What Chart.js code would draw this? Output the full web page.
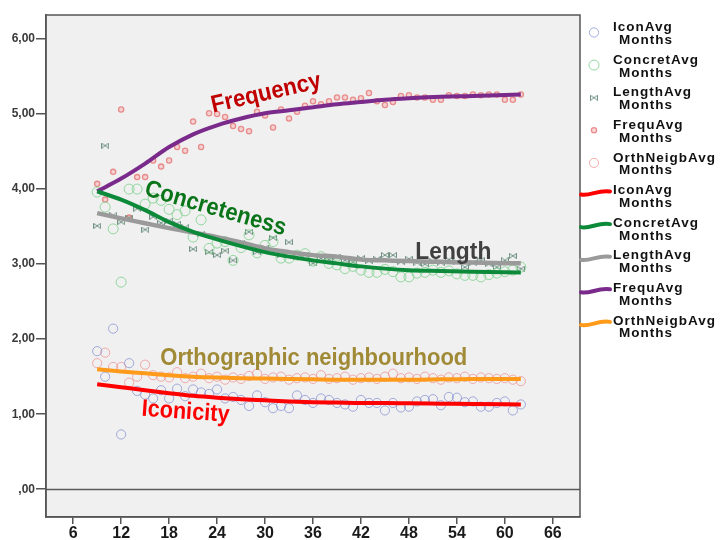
<!DOCTYPE html>
<html>
<head>
<meta charset="utf-8">
<script src="https://cdn.jsdelivr.net/npm/chart.js@4.4.0/dist/chart.umd.min.js"></script>
<style>
  html, body { margin: 0; padding: 0; background: #ffffff; }
  #wrap { width: 721px; height: 540px; }
</style>
</head>
<body>
<div id="wrap"><canvas id="c" width="721" height="540"></canvas></div>
<script>
// Age in months of the averaged observations
const months = [9,10,11,12,13,14,15,16,17,18,19,20,21,22,23,24,25,26,27,28,29,30,31,32,33,34,35,
                36,37,38,39,40,41,42,43,44,45,46,47,48,49,50,51,52,53,54,55,56,57,58,59,60,61,62];

// Monthly averages per word property
const iconAvg = [1.84,1.50,2.14,0.73,1.68,1.31,1.26,1.21,1.32,1.21,1.34,1.24,1.33,1.29,1.27,1.33,1.21,1.23,
                 1.19,1.11,1.25,1.16,1.08,1.11,1.08,1.25,1.19,1.15,1.21,1.19,1.15,1.13,1.10,1.19,1.15,1.15,
                 1.05,1.15,1.09,1.10,1.17,1.19,1.20,1.12,1.23,1.22,1.16,1.17,1.10,1.10,1.15,1.17,1.05,1.13];
const concretAvg = [3.96,3.76,3.47,2.76,4.00,4.00,3.80,3.88,3.85,3.73,3.66,3.71,3.36,3.59,3.21,3.28,3.30,3.05,
                    3.22,3.39,3.15,3.25,3.30,3.08,3.08,3.12,3.14,3.04,3.10,3.01,2.99,2.94,2.97,2.92,2.89,2.89,
                    2.93,2.90,2.83,2.83,2.88,2.89,2.92,2.89,2.91,2.87,2.85,2.85,2.83,2.86,2.88,2.90,2.92,2.96];
const lengthAvg = [3.51,4.58,3.65,3.56,3.62,3.74,3.46,3.63,3.55,3.58,3.54,3.49,3.20,3.40,3.16,3.12,3.18,3.05,
                   3.28,3.43,3.16,3.22,3.35,3.12,3.29,3.10,3.12,3.01,3.08,3.06,3.10,3.05,3.03,3.08,3.04,3.07,
                   3.12,3.12,3.03,3.07,3.02,3.00,3.04,3.02,3.06,3.03,2.96,3.02,3.05,3.00,2.96,3.05,3.11,2.94];
const frequAvg = [4.07,3.86,4.23,5.06,3.62,4.16,4.16,4.38,4.30,4.38,4.56,4.51,4.90,4.56,5.01,5.00,4.96,4.84,
                  4.80,4.77,5.03,4.98,4.82,5.06,4.94,5.03,5.11,5.17,5.13,5.17,5.22,5.22,5.19,5.21,5.28,5.17,
                  5.12,5.16,5.24,5.25,5.22,5.22,5.19,5.19,5.25,5.24,5.24,5.26,5.25,5.26,5.26,5.19,5.19,5.26];
const orthNeigbAvg = [1.68,1.82,1.63,1.63,1.42,1.50,1.66,1.52,1.50,1.49,1.56,1.48,1.50,1.54,1.48,1.50,1.46,1.49,
                      1.47,1.51,1.54,1.47,1.49,1.50,1.46,1.48,1.49,1.47,1.52,1.47,1.48,1.50,1.46,1.48,1.49,1.47,
                      1.50,1.54,1.48,1.49,1.47,1.50,1.48,1.46,1.49,1.48,1.50,1.47,1.49,1.48,1.47,1.48,1.46,1.44];

// Smoothed fit lines, sampled along the age axis
const fitMonths = [9,12,15,18,21,24,27,30,33,36,39,42,45,48,52,56,62];
const iconFit     = [1.40,1.36,1.32,1.28,1.245,1.22,1.20,1.185,1.17,1.16,1.155,1.15,1.15,1.145,1.14,1.135,1.13];
const concretFit  = [3.97,3.86,3.72,3.56,3.43,3.33,3.24,3.16,3.10,3.05,3.01,2.97,2.94,2.92,2.91,2.90,2.89];
const lengthFit   = [3.68,3.61,3.545,3.48,3.42,3.36,3.29,3.21,3.16,3.12,3.10,3.06,3.05,3.04,3.03,3.02,3.01];
const frequFit    = [3.97,4.14,4.34,4.56,4.73,4.85,4.94,5.01,5.05,5.09,5.13,5.16,5.19,5.21,5.23,5.24,5.26];
const orthNeigbFit= [1.60,1.57,1.545,1.52,1.50,1.49,1.48,1.475,1.47,1.465,1.46,1.46,1.46,1.46,1.465,1.47,1.47];

// Axis ticks
const xTicks = [6,12,18,24,30,36,42,48,54,60,66];
const yTicks = [0,1,2,3,4,5,6];

const toPoints = (xs, ys) => xs.map((x, i) => ({ x: x, y: ys[i] }));

// Small "bowtie" marker used for the length averages
function bowtieMarker(color) {
  const c = document.createElement('canvas');
  c.width = 8; c.height = 6;
  const g = c.getContext('2d');
  g.strokeStyle = color; g.lineWidth = 1;
  g.beginPath();
  g.moveTo(0.5, 0.5); g.lineTo(0.5, 5.5);
  g.moveTo(7.5, 0.5); g.lineTo(7.5, 5.5);
  g.moveTo(0.5, 0.5); g.lineTo(7.5, 5.5);
  g.moveTo(0.5, 5.5); g.lineTo(7.5, 0.5);
  g.stroke();
  return c;
}
const bowtie = bowtieMarker('rgba(70,115,95,0.75)');

const scatterStyle = (color, r, extra) => Object.assign({
  type: 'scatter', showLine: false, order: 2,
  pointStyle: 'circle', pointRadius: r, pointBorderWidth: 1,
  pointBorderColor: color, pointBackgroundColor: 'rgba(0,0,0,0)'
}, extra || {});

const lineStyle = (color, width) => ({
  type: 'scatter', showLine: true, order: 1,
  borderColor: color, borderWidth: width, pointRadius: 0,
  cubicInterpolationMode: 'monotone', fill: false,
  borderCapStyle: 'butt', borderJoinStyle: 'round'
});

const datasets = [
  Object.assign({ label: 'IconAvg Months', data: toPoints(months, iconAvg) },
    scatterStyle('rgba(135,145,210,0.75)', 4.6)),
  Object.assign({ label: 'ConcretAvg Months', data: toPoints(months, concretAvg) },
    scatterStyle('rgba(130,210,145,0.85)', 5)),
  Object.assign({ label: 'LengthAvg Months', data: toPoints(months, lengthAvg) },
    scatterStyle('rgba(70,115,95,0.75)', 4, { pointStyle: bowtie })),
  Object.assign({ label: 'FrequAvg Months', data: toPoints(months, frequAvg) },
    scatterStyle('rgba(228,110,110,0.75)', 2.6, { pointBorderWidth: 1.3, pointBackgroundColor: 'rgba(248,190,190,0.6)' })),
  Object.assign({ label: 'OrthNeigbAvg Months', data: toPoints(months, orthNeigbAvg) },
    scatterStyle('rgba(240,140,140,0.7)', 4.6)),
  Object.assign({ label: 'IconAvg Months', data: toPoints(fitMonths, iconFit) }, lineStyle('#ff0000', 4)),
  Object.assign({ label: 'ConcretAvg Months', data: toPoints(fitMonths, concretFit) }, lineStyle('#0c8a3a', 4)),
  Object.assign({ label: 'LengthAvg Months', data: toPoints(fitMonths, lengthFit) }, lineStyle('#9a9a9a', 4.5)),
  Object.assign({ label: 'FrequAvg Months', data: toPoints(fitMonths, frequFit) }, lineStyle('#7a2a8a', 4)),
  Object.assign({ label: 'OrthNeigbAvg Months', data: toPoints(fitMonths, orthNeigbFit) }, lineStyle('#ff9a1a', 4))
];

// Curve labels written inside the plot (anchored at the left end of the baseline)
const curveNotes = [
  { text: 'Frequency',                  month: 23.5, value: 5.02, angle: -13, color: '#c00000', size: 24, width: 112 },
  { text: 'Concreteness',               month: 14.8, value: 3.92, angle: 16,  color: '#0a7518', size: 24, width: 146 },
  { text: 'Length',                     month: 48.8, value: 3.07, angle: 0,   color: '#404040', size: 24, width: 76 },
  { text: 'Orthographic neighbourhood', month: 16.9, value: 1.66, angle: 0,   color: '#a08a36', size: 23, width: 307 },
  { text: 'Iconicity',                  month: 14.5, value: 0.98, angle: 4,   color: '#ff0000', size: 24, width: 88 }
];

const FRAME = '#555555';

const framePlugin = {
  id: 'frame',
  beforeDraw(chart) {
    const { ctx, chartArea: a } = chart;
    ctx.save();
    ctx.fillStyle = '#ffffff';
    ctx.fillRect(0, 0, chart.width, chart.height);
    ctx.fillStyle = '#f0f0f0';
    ctx.fillRect(a.left, a.top, a.right - a.left, a.bottom - a.top);
    ctx.restore();
  },
  afterDatasetsDraw(chart) {
    const { ctx, chartArea: a, scales } = chart;
    ctx.save();
    // reference line at zero
    const y0 = Math.round(scales.y.getPixelForValue(0)) + 0.5;
    ctx.strokeStyle = '#5a5a5a';
    ctx.lineWidth = 1.5;
    ctx.beginPath(); ctx.moveTo(a.left, y0); ctx.lineTo(a.right, y0); ctx.stroke();
    // full box
    ctx.strokeStyle = FRAME;
    ctx.lineWidth = 1.5;
    ctx.strokeRect(a.left, a.top, a.right - a.left, a.bottom - a.top);
    // curve labels
    curveNotes.forEach(n => {
      const px = scales.x.getPixelForValue(n.month);
      const py = scales.y.getPixelForValue(n.value);
      ctx.save();
      ctx.translate(px, py);
      ctx.rotate(n.angle * Math.PI / 180);
      ctx.font = 'bold ' + n.size + 'px "Liberation Sans", Arial, sans-serif';
      const w = ctx.measureText(n.text).width;
      ctx.scale(n.width / w, 1);
      ctx.fillStyle = n.color;
      ctx.textAlign = 'left';
      ctx.textBaseline = 'alphabetic';
      ctx.fillText(n.text, 0, 0);
      ctx.restore();
    });
    ctx.restore();
  },
  afterDraw(chart) {
    // legend on the right-hand side
    const { ctx } = chart;
    ctx.save();
    const x0 = 594, textX = 613, top = 27.5, step = 32.6;
    chart.data.datasets.forEach((ds, i) => {
      const yc = top + i * step;
      const parts = ds.label.split(' ');
      if (ds.showLine) {
        ctx.strokeStyle = ds.borderColor;
        ctx.lineWidth = 4;
        ctx.lineCap = 'round';
        ctx.beginPath();
        const ly = yc + 2;
        ctx.moveTo(581, ly + 2);
        ctx.bezierCurveTo(590, ly + 4, 598, ly - 3, 610, ly - 1);
        ctx.stroke();
      } else if (ds.pointStyle && typeof ds.pointStyle !== 'string') {
        ctx.drawImage(ds.pointStyle, x0 - 4, yc + 5 - 3);
      } else {
        ctx.beginPath();
        ctx.arc(x0, yc + 5, ds.pointRadius, 0, Math.PI * 2);
        ctx.fillStyle = ds.pointBackgroundColor;
        ctx.fill();
        ctx.lineWidth = ds.pointBorderWidth;
        ctx.strokeStyle = ds.pointBorderColor;
        ctx.stroke();
      }
      ctx.fillStyle = '#111111';
      ctx.font = 'bold 13.5px "Liberation Sans", Arial, sans-serif';
      if ('letterSpacing' in ctx) ctx.letterSpacing = '1px';
      ctx.textAlign = 'left';
      ctx.textBaseline = 'middle';
      ctx.fillText(parts[0], textX, yc);
      ctx.fillText(parts[1], textX + 6, yc + 12.7);
      if ('letterSpacing' in ctx) ctx.letterSpacing = '0px';
    });
    ctx.restore();
  }
};

new Chart(document.getElementById('c'), {
  type: 'scatter',
  data: { datasets: datasets },
  plugins: [framePlugin],
  options: {
    responsive: false,
    animation: false,
    devicePixelRatio: 1,
    layout: { padding: { left: 0, top: 15, right: 141, bottom: 0 } },
    plugins: { legend: { display: false }, tooltip: { enabled: false } },
    scales: {
      x: {
        type: 'linear', min: 2.6, max: 69.4,
        afterFit(s) { s.height = 23; },
        afterBuildTicks(s) { s.ticks = xTicks.map(v => ({ value: v })); },
        grid: { drawOnChartArea: false, drawTicks: true, tickLength: 7, color: FRAME, lineWidth: 1.5 },
        border: { display: true, color: FRAME, width: 1.5 },
        ticks: {
          padding: 0, color: '#1a1a1a', maxRotation: 0, autoSkip: false,
          font: { family: '"Liberation Sans", Arial, sans-serif', size: 16, weight: 'bold' },
          callback: v => String(v)
        }
      },
      y: {
        type: 'linear', min: -0.37, max: 6.32,
        afterFit(s) { s.width = 46; },
        afterBuildTicks(s) { s.ticks = yTicks.map(v => ({ value: v })); },
        grid: { drawOnChartArea: false, drawTicks: true, tickLength: 10, color: FRAME, lineWidth: 1.5 },
        border: { display: true, color: FRAME, width: 1.5 },
        ticks: {
          padding: 1, color: '#3a3a3a', autoSkip: false,
          font: { family: '"Liberation Sans", Arial, sans-serif', size: 12, weight: 'bold' },
          callback: v => (v === 0 ? ',00' : v.toFixed(2).replace('.', ','))
        }
      }
    }
  }
});
</script>
</body>
</html>
